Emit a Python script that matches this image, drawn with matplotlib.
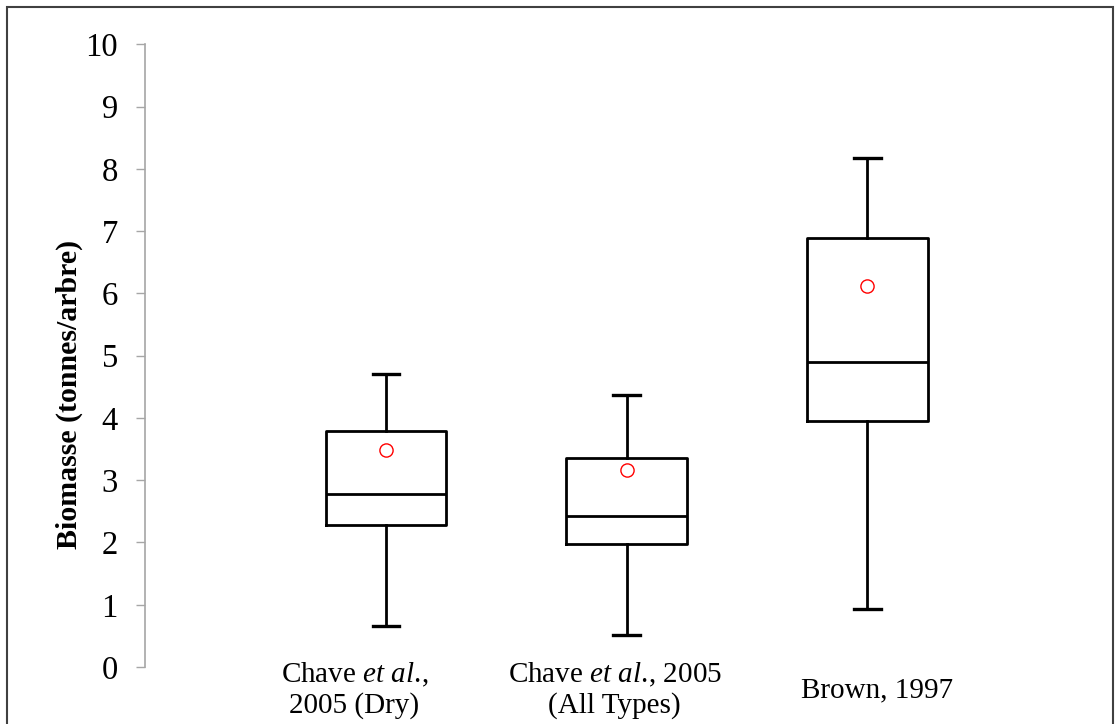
import matplotlib
matplotlib.use('Agg')
import matplotlib.pyplot as plt
from matplotlib.patches import Rectangle

plt.rcParams['font.family'] = ['Liberation Serif', 'DejaVu Serif']
plt.rcParams['mathtext.fontset'] = 'custom'
plt.rcParams['mathtext.rm'] = 'Liberation Serif'
plt.rcParams['mathtext.it'] = 'Liberation Serif:italic'

# box statistics (tonnes/arbre)
labels = ['Chave $\\mathit{et\\ al.}\\!$,\n2005 (Dry)',
          'Chave $\\mathit{et\\ al.}\\!$, 2005\n(All Types)',
          'Brown, 1997']
whis_low = [0.66, 0.51, 0.93]
q1 = [2.28, 1.97, 3.95]
median = [2.78, 2.42, 4.90]
q3 = [3.79, 3.35, 6.89]
whis_high = [4.70, 4.37, 8.17]
means = [3.48, 3.16, 6.12]

stats = []
for i in range(len(labels)):
    stats.append({'whislo': whis_low[i], 'q1': q1[i], 'med': median[i],
                  'q3': q3[i], 'whishi': whis_high[i], 'mean': means[i],
                  'fliers': []})

fig = plt.figure(figsize=(11.16, 7.24), dpi=100)
ax = fig.add_axes([0.130, 0.0787, 0.863, 0.860])

line = dict(color='black', linewidth=2.0)
ax.bxp(stats, positions=[1, 2, 3], widths=0.5, capwidths=0.11,
       showmeans=True, showfliers=False, manage_ticks=False,
       boxprops=line, whiskerprops=line, capprops=dict(color='black', linewidth=2.4),
       medianprops=line,
       meanprops=dict(marker='o', markerfacecolor='none',
                      markeredgecolor='red', markersize=9.5,
                      markeredgewidth=1.0))

ax.set_xlim(0, 4)
ax.set_ylim(0, 10)
ax.set_yticks(range(0, 11))
# category labels sit a little off the box centres in the original
ax.set_xticks([0.87, 1.95, 3.04])
ax.set_xticklabels(labels, fontsize=21, va='center', linespacing=1.15)
ax.tick_params(axis='x', length=0, pad=16.5)
ax.tick_params(axis='y', direction='out', length=6.5, width=1.0,
               color='#a6a6a6', labelsize=23.5, pad=13)

for s in ['top', 'right', 'bottom']:
    ax.spines[s].set_visible(False)
ax.spines['left'].set_color('#a6a6a6')
ax.spines['left'].set_linewidth(1.2)

ax.set_ylabel('Biomasse (tonnes/arbre)', fontsize=21.5, fontweight='bold')
ax.yaxis.set_label_coords(-0.064, 0.437)

# outer frame around the chart
fig.patches.append(Rectangle((7 / 1116, -0.02), 1106 / 1116, 0.02 + 717 / 724,
                             transform=fig.transFigure, fill=False,
                             edgecolor='#404040', linewidth=1.5))

fig.savefig('out.png', dpi=100)
